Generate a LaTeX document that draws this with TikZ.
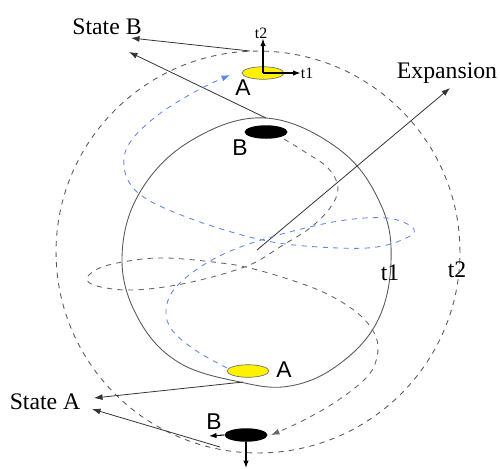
\documentclass[tikz,border=0pt]{standalone}
\usepackage{fontspec}
\setmainfont{Liberation Serif}
\setsansfont{Liberation Sans}
\usetikzlibrary{arrows.meta,positioning,calc,shapes.geometric}
\definecolor{pathblue}{RGB}{95,135,235}
\tikzset{
  statelbl/.style={font=\fontsize{13.5}{15}\selectfont, inner sep=0pt},
  ptlbl/.style={font=\sffamily\fontsize{13}{15}\selectfont, inner sep=0pt},
  axlbl/.style={font=\fontsize{9}{10}\selectfont, inner sep=0pt},
  yellowblob/.style={ellipse, draw=black!55, fill=yellow, line width=0.4pt,
    minimum width=0.84cm, minimum height=0.25cm, inner sep=0pt},
  blackblob/.style={ellipse, fill=black, minimum width=0.86cm,
    minimum height=0.27cm, inner sep=0pt},
  shell/.style={draw=black!65, line width=0.5pt},
  arrow/.style={-{Latex[length=1.7mm,width=1.2mm]}, line width=0.45pt, draw=black!80},
  axarrow/.style={-{Latex[length=1.5mm,width=1.1mm]}, line width=0.6pt},
  graytraj/.style={dashed, draw=black!60, line width=0.5pt},
  bluetraj/.style={dashed, draw=pathblue, line width=0.5pt}
}

\begin{document}
\begin{tikzpicture}[x=0.02cm, y=-0.02cm]
    \useasboundingbox (0,0) rectangle (500,468);
    % the two shells
    \draw[shell, dashed] (258,252) ellipse [x radius=4.04cm, y radius=4.02cm];
    \draw[shell] plot[smooth cycle, tension=0.65] coordinates {
      (266,118) (340,150) (381,205) (391,262) (377,322) (338,365) (290,386)
      (240,382) (178,362) (138,318) (122,258) (140,192) (192,140)};
    \node[statelbl] (lt1) at (390,273) {t1};
    \node[statelbl] (lt2) at (457,270) {t2};

    % states on the shells
    \node[yellowblob] (topA) at (263,73) {};
    \node[blackblob] (topB) at (266,132) {};
    \node[yellowblob] (botA) at (248,371) {};
    \node[blackblob] (botB) at (246,435) {};
    \node[ptlbl] (lA1) at (243,88) {A};
    \node[ptlbl] (lB1) at (240,148) {B};
    \node[ptlbl] (lA2) at (284,370) {A};
    \node[ptlbl] (lB2) at (214,422) {B};

    % local axes
    \node[axlbl] (ax1) at (307,73) {t1};
    \node[axlbl] (ax2) at (261,33) {t2};
    \draw[axarrow] (topA.center) -- (ax1.west);
    \draw[axarrow] (topA.center) -- (topA.center |- ax2.south);
    \coordinate (bbl) at (209,436);
    \coordinate (bbd) at (246,468);
    \draw[axarrow] (botB.west) -- (bbl);
    \draw[axarrow] (botB.south) -- (bbd);

    % state labels
    \node[statelbl] (stB) at (107,27) {State B};
    \node[statelbl] (stA) at (45,402) {State A};
    \coordinate (outN) at (250,51);
    \coordinate (inN) at (266,118);
    \coordinate (inS) at (243,382);
    \coordinate (outS) at (220,447);
    \coordinate (stB1) at (131,38);
    \coordinate (stB2) at (129,52);
    \coordinate (stA1) at (94,398);
    \coordinate (stA2) at (92,409);
    \foreach \a/\b in {outN/stB1,inN/stB2,inS/stA1,outS/stA2}
      \draw[arrow] (\a) -- (\b);

    % expansion
    \coordinate (ctr) at (257,250);
    \node[statelbl] (exp) at (447,73) {Expansion};
    \coordinate (expTip) at (450,88);
    \draw[arrow] (ctr) -- (expTip);

    % trajectories
    \draw[graytraj, -{Latex[length=1.7mm,width=1.2mm]}] plot[smooth, tension=0.6] coordinates {
      (284,139) (305,152) (328,168) (338,188) (330,208) (310,228) (283,245)
      (247,266) (187,283) (133,290) (97,286) (87,278) (102,267) (135,260)
      (167,258) (213,262) (250,268) (300,283) (333,297) (361,316) (376,337)
      (377,357) (367,377) (337,401) (302,421) (271,435)};
    \draw[bluetraj, -{Latex[length=1.7mm,width=1.2mm]}] plot[smooth, tension=0.6] coordinates {
      (227,368) (195,350) (172,330) (166,310) (176,287) (210,261) (258,241)
      (333,222) (387,218) (414,229) (402,240) (367,248) (305,246) (258,239)
      (200,222) (150,201) (129,182) (124,158) (134,137) (162,112) (200,89)
      (230,75)};
  \end{tikzpicture}
\end{document}
